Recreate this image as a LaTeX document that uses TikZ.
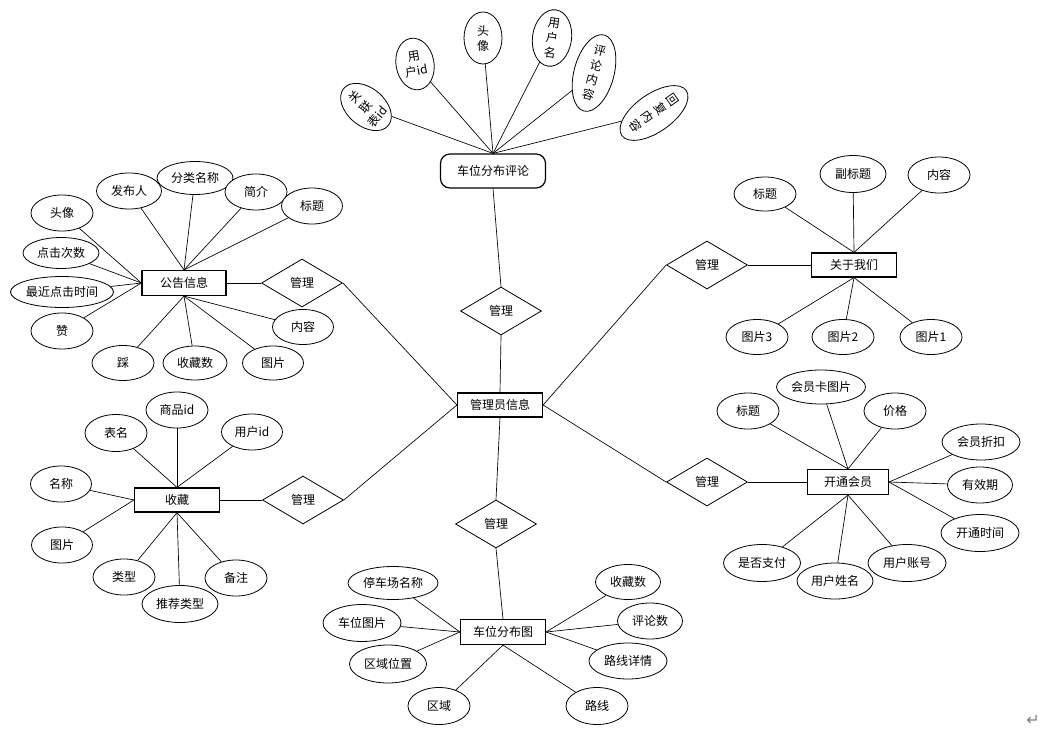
\documentclass[tikz,border=0pt]{standalone}
\usepackage{fontspec}
\newfontfamily\cjk{Noto Sans CJK SC}
\newfontfamily\dejavu{DejaVu Sans}
\usetikzlibrary{shapes.geometric}
\begin{document}
\begin{tikzpicture}[x=0.75pt,y=-0.75pt,
  every node/.style={font=\cjk\fontsize{9}{11.25}\selectfont},
  attr/.style 2 args={ellipse,draw,fill=white,line width=0.6pt,inner sep=0pt,minimum width=#1*0.75pt,minimum height=#2*0.75pt,align=center},
  ent/.style={rectangle,draw,fill=white,line width=0.9pt,inner sep=0pt,minimum width=85*0.75pt,minimum height=24*0.75pt},
  rel/.style={diamond,draw,fill=white,line width=0.6pt,inner sep=0pt,minimum width=81*0.75pt,minimum height=48*0.75pt},
  lnk/.style={line width=0.5pt}]
\fill[white] (0,0) rectangle (1055,735);
\useasboundingbox (0,0) rectangle (1055,735);

% ---------- central entity and relations ----------
\node[ent] (admin) at (500,405) {管理员信息};
\node[rel] (m1) at (302,283) {管理};
\node[rel] (m2) at (303,500) {管理};
\node[rel] (m3) at (501,311) {管理};
\node[rel] (m4) at (496,524) {管理};
\node[rel] (m5) at (707,265) {管理};
\node[rel] (m6) at (707,482) {管理};

% ---------- 车位分布评论 ----------
\node[ent,rounded corners=7pt,minimum width=105*0.75pt,minimum height=34*0.75pt] (cmt) at (493,171) {车位分布评论};
\node[attr={38}{52},rotate=50] (c1) at (366,107) {关\\联\\表id};
\node[attr={38}{52},rotate=10] (c2) at (415,64) {用\\户id};
\node[attr={38}{52}] (c3) at (483,38) {头\\像};
\node[attr={39}{51},rotate=-8] (c4) at (552,38) {用\\户\\名};
\node[attr={40}{50},rotate=-15] (c5) at (594,73) {评\\论\\内\\容};
\node[attr={38}{52},rotate=-55] (c6) at (654,113) {回\\复\\内\\容};
\foreach \n in {c1,c2,c3,c4,c5,c6} \draw[lnk] (\n) -- (cmt.north);

% ---------- 公告信息 ----------
\node[ent,minimum width=84*0.75pt,minimum height=25*0.75pt] (ntc) at (184,283) {公告信息};
\node[attr={62}{36}] (n1) at (62,213) {头像};
\node[attr={76}{31}] (n2) at (61,253) {点击次数};
\node[attr={103}{31}] (n3) at (62,292) {最近点击时间};
\node[attr={62}{36}] (n4) at (62,331) {赞};
\node[attr={65}{36}] (n5) at (129,191) {发布人};
\node[attr={76}{33}] (n6) at (195,178) {分类名称};
\node[attr={62}{36}] (n7) at (256,192) {简介};
\node[attr={61}{36}] (n8) at (312,206) {标题};
\node[attr={62}{35}] (n9) at (123,363) {踩};
\node[attr={64}{34}] (n10) at (195,363) {收藏数};
\node[attr={61}{34}] (n11) at (273,363) {图片};
\node[attr={61}{35}] (n12) at (303,327) {内容};
\foreach \n in {n1,n2,n3,n4} \draw[lnk] (\n) -- (ntc.west);
\foreach \n in {n5,n6,n7,n8} \draw[lnk] (\n) -- (ntc.north);
\foreach \n in {n9,n10,n11,n12} \draw[lnk] (\n) -- (ntc.south);

% ---------- 收藏 ----------
\node[ent] (fav) at (177,500) {收藏};
\node[attr={62}{36}] (f1) at (177,410) {商品id};
\node[attr={62}{37}] (f2) at (116,433) {表名};
\node[attr={61}{36}] (f3) at (252,432) {用户id};
\node[attr={61}{36}] (f4) at (61,484) {名称};
\node[attr={61}{36}] (f5) at (62,545) {图片};
\node[attr={62}{36}] (f6) at (124,577) {类型};
\node[attr={62}{36}] (f8) at (236,578) {备注};
\node[attr={76}{37}] (f7) at (180,604) {推荐类型};
\foreach \n in {f1,f2,f3} \draw[lnk] (\n) -- (fav.north);
\foreach \n in {f4,f5} \draw[lnk] (\n) -- (fav.west);
\foreach \n in {f6,f7,f8} \draw[lnk] (\n) -- (fav.south);

% ---------- 车位分布图 ----------
\node[ent,minimum height=25*0.75pt] (map) at (503,632) {车位分布图};
\node[attr={90}{33}] (p1) at (393,583) {停车场名称};
\node[attr={78}{37}] (p2) at (362,623) {车位图片};
\node[attr={77}{38}] (p3) at (388,664) {区域位置};
\node[attr={62}{37}] (p4) at (439,706) {区域};
\node[attr={65}{35}] (p5) at (628,582) {收藏数};
\node[attr={65}{36}] (p6) at (650,621) {评论数};
\node[attr={78}{36}] (p7) at (628,661) {路线详情};
\node[attr={62}{37}] (p8) at (597,706) {路线};
\foreach \n in {p1,p2,p3} \draw[lnk] (\n) -- (map.west);
\foreach \n in {p5,p6,p7} \draw[lnk] (\n) -- (map.east);
\foreach \n in {p4,p8} \draw[lnk] (\n) -- (map.south);

% ---------- 关于我们 ----------
\node[ent] (abt) at (854,265) {关于我们};
\node[attr={62}{34}] (a1) at (765,194) {标题};
\node[attr={66}{37}] (a2) at (853,174) {副标题};
\node[attr={62}{36}] (a3) at (939,175) {内容};
\node[attr={62}{35}] (a4) at (757,337) {图片3};
\node[attr={62}{35}] (a5) at (843,337) {图片2};
\node[attr={62}{35}] (a6) at (931,337) {图片1};
\foreach \n in {a1,a2,a3} \draw[lnk] (\n) -- (abt.north);
\foreach \n in {a4,a5,a6} \draw[lnk] (\n) -- (abt.south);

% ---------- 开通会员 ----------
\node[ent,minimum width=81*0.75pt,minimum height=25*0.75pt] (mem) at (848,482) {开通会员};
\node[attr={89}{34}] (v1) at (821,387) {会员卡图片};
\node[attr={62}{36}] (v2) at (748,411) {标题};
\node[attr={62}{36}] (v3) at (895,411) {价格};
\node[attr={78}{36}] (v4) at (981,442) {会员折扣};
\node[attr={65}{36}] (v5) at (980,485) {有效期};
\node[attr={78}{37}] (v6) at (980,533) {开通时间};
\node[attr={77}{37}] (v7) at (762,563) {是否支付};
\node[attr={78}{37}] (v9) at (907,563) {用户账号};
\node[attr={76}{36}] (v8) at (835,581) {用户姓名};
\foreach \n in {v1,v2,v3} \draw[lnk] (\n) -- (mem.north);
\foreach \n in {v4,v5,v6} \draw[lnk] (\n) -- (mem.east);
\foreach \n in {v7,v8,v9} \draw[lnk] (\n) -- (mem.south);

% ---------- relation links ----------
\draw[lnk] (ntc.east) -- (m1.west);
\draw[lnk] (m1.east) -- (admin.west);
\draw[lnk] (fav.east) -- (m2.west);
\draw[lnk] (m2.east) -- (admin.west);
\draw[lnk] (cmt.south) -- (m3.north);
\draw[lnk] (m3.south) -- (admin.north);
\draw[lnk] (admin.south) -- (m4.north);
\draw[lnk] (m4.south) -- (map.north);
\draw[lnk] (admin.east) -- (m5.west);
\draw[lnk] (m5.east) -- (abt.west);
\draw[lnk] (admin.east) -- (m6.west);
\draw[lnk] (m6.east) -- (mem.west);

\node[font=\dejavu\fontsize{12}{12}\selectfont,text=gray] (ret) at (1033,720) {↵};
\end{tikzpicture}
\end{document}
